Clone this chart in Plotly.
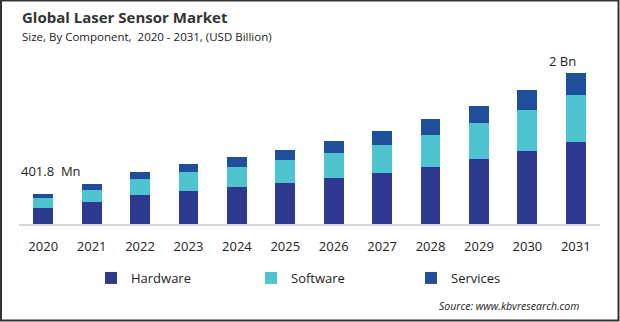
import plotly.graph_objects as go

years = ["2020", "2021", "2022", "2023", "2024", "2025",
         "2026", "2027", "2028", "2029", "2030", "2031"]
hardware = [0.215, 0.295, 0.388, 0.442, 0.495, 0.549, 0.616, 0.683, 0.763, 0.870, 0.977, 1.098]
software = [0.133, 0.161, 0.214, 0.254, 0.268, 0.308, 0.335, 0.375, 0.428, 0.482, 0.549, 0.629]
services = [0.054, 0.080, 0.094, 0.107, 0.134, 0.134, 0.161, 0.187, 0.214, 0.228, 0.268, 0.295]
series_names = ["Hardware", "Software", "Services"]
series_colors = ["#2E3A8F", "#4FC3D0", "#1F4E9A"]
first_label = "401.8  Mn"
last_label = "2 Bn"

totals = [h + s + v for h, s, v in zip(hardware, software, services)]

W, H = 620, 322
L, R, T, B = 19, 20, 60, 98
pw = W - L - R
ph = H - T - B

def px(xp):
    return (xp - L) / pw

def py(yp):
    return (H - B - yp) / ph

fig = go.Figure()
for name, vals, col in zip(series_names, [hardware, software, services], series_colors):
    fig.add_trace(go.Bar(x=years, y=vals, name=name, marker=dict(color=col, line=dict(width=0)),
                         hoverinfo="skip"))

font_family = "Open Sans"
annotations = [
    dict(text="<b>Global Laser Sensor Market</b>", xref="paper", yref="paper", x=px(20), y=py(17),
         xanchor="left", yanchor="middle", showarrow=False,
         font=dict(family=font_family, size=15, color="#333333")),
    dict(text="Size, By Component,  2020 - 2031, (USD Billion)", xref="paper", yref="paper",
         x=px(20), y=py(36), xanchor="left", yanchor="middle", showarrow=False,
         font=dict(family=font_family, size=11.5, color="#222222")),
    # category positions given by index (0 = first year, last index = last year)
    dict(text=first_label, xref="x", yref="y", x=0, y=totals[0], xanchor="left",
         yanchor="bottom", xshift=-24, yshift=12, showarrow=False,
         font=dict(family=font_family, size=13, color="#222222")),
    dict(text=last_label, xref="x", yref="y", x=len(years) - 1, y=totals[-1], xanchor="center",
         yanchor="bottom", xshift=-13, yshift=1, showarrow=False,
         font=dict(family=font_family, size=13, color="#222222")),
    dict(text="<i>Source: www.kbvresearch.com</i>", xref="paper", yref="paper", x=px(581), y=py(306),
         xanchor="right", yanchor="middle", showarrow=False,
         font=dict(family=font_family, size=10.5, color="#222222")),
]

shapes = [
    dict(type="rect", xref="paper", yref="paper", x0=px(1), x1=px(618.5), y0=py(320.5), y1=py(0.5),
         line=dict(color="#333333", width=2), fillcolor="rgba(0,0,0,0)", layer="above"),
]

fig.update_layout(
    width=W, height=H,
    margin=dict(l=L, r=R, t=T, b=B, pad=0),
    paper_bgcolor="white", plot_bgcolor="white",
    barmode="stack", bargap=0.59,
    showlegend=True,
    legend=dict(orientation="h", x=px(91), y=py(278), xanchor="left", yanchor="middle",
                entrywidth=115, entrywidthmode="pixels", traceorder="normal",
                font=dict(family=font_family, size=13, color="#222222"),
                bgcolor="rgba(0,0,0,0)"),
    xaxis=dict(type="category", categoryorder="array", categoryarray=years,
               range=[-0.5, len(years) - 0.5], showline=True, linecolor="#D9D9D9",
               linewidth=1.5, ticks="", showgrid=False,
               tickfont=dict(family=font_family, size=13, color="#222222"),
               ticklabelstandoff=10, fixedrange=True),
    yaxis=dict(visible=False, range=[0, 2.2], showgrid=False, zeroline=False, fixedrange=True),
    annotations=annotations,
    shapes=shapes,
    font=dict(family=font_family),
)

fig.write_html("out.html", config=dict(displayModeBar=False))
